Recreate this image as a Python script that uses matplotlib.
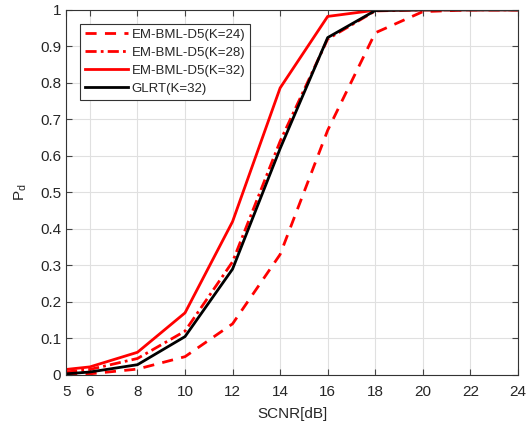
import matplotlib
matplotlib.use('Agg')
import matplotlib.pyplot as plt

plt.rcParams['font.family'] = ['Liberation Sans', 'DejaVu Sans']

snr = [5, 6, 8, 10, 12, 14, 16, 18, 20, 22, 24]
pd_k24 = [0.0, 0.003, 0.016, 0.05, 0.14, 0.33, 0.67, 0.937, 0.995, 1.0, 1.0]
pd_k28 = [0.008, 0.015, 0.045, 0.12, 0.31, 0.64, 0.92, 0.997, 1.0, 1.0, 1.0]
pd_k32 = [0.015, 0.022, 0.062, 0.17, 0.42, 0.786, 0.982, 0.999, 1.0, 1.0, 1.0]
pd_glrt = [0.003, 0.008, 0.028, 0.105, 0.29, 0.62, 0.924, 0.998, 1.0, 1.0, 1.0]

xticks = [5, 6, 8, 10, 12, 14, 16, 18, 20, 22, 24]
yticks = [0, 0.1, 0.2, 0.3, 0.4, 0.5, 0.6, 0.7, 0.8, 0.9, 1]
ytick_labels = ['0', '0.1', '0.2', '0.3', '0.4', '0.5', '0.6', '0.7', '0.8', '0.9', '1']

txt = '#262626'

fig = plt.figure(figsize=(5.29, 4.28), dpi=100)
ax = fig.add_axes([0.125, 0.124, 0.854, 0.853])

ax.plot(snr, pd_k24, color='red', linestyle=(0, (4, 3)), linewidth=2, label='EM-BML-D5(K=24)')
ax.plot(snr, pd_k28, color='red', linestyle=(0, (4, 1.5, 1, 1.5)), linewidth=2, label='EM-BML-D5(K=28)')
ax.plot(snr, pd_k32, color='red', linestyle='-', linewidth=2, label='EM-BML-D5(K=32)')
ax.plot(snr, pd_glrt, color='black', linestyle='-', linewidth=2, label='GLRT(K=32)')

ax.set_xlim(5, 24)
ax.set_ylim(0, 1)
ax.set_xticks(xticks)
ax.set_yticks(yticks)
ax.set_yticklabels(ytick_labels)
ax.grid(True, color='#e0e0e0', linewidth=0.8)
ax.set_axisbelow(True)
ax.tick_params(direction='in', top=True, right=True, labelsize=11, length=4,
               color='#444444', labelcolor=txt)
ax.tick_params(axis='x', pad=7)
for s in ax.spines.values():
    s.set_color('#333333')
    s.set_linewidth(0.8)

ax.set_xlabel('SCNR[dB]', fontsize=11, color=txt, labelpad=6)
ax.set_ylabel('P$_\\mathregular{d}$', fontsize=11, color=txt, labelpad=8)

leg = ax.legend(loc='upper left', bbox_to_anchor=(0.031, 0.962), fontsize=9.5, fancybox=False,
                framealpha=1, edgecolor='#333333', handlelength=3.3, handletextpad=0.25,
                borderpad=0.35, labelspacing=0.45, borderaxespad=0)
leg.get_frame().set_linewidth(0.8)
for t in leg.get_texts():
    t.set_color(txt)

fig.savefig('out.png', dpi=100)
